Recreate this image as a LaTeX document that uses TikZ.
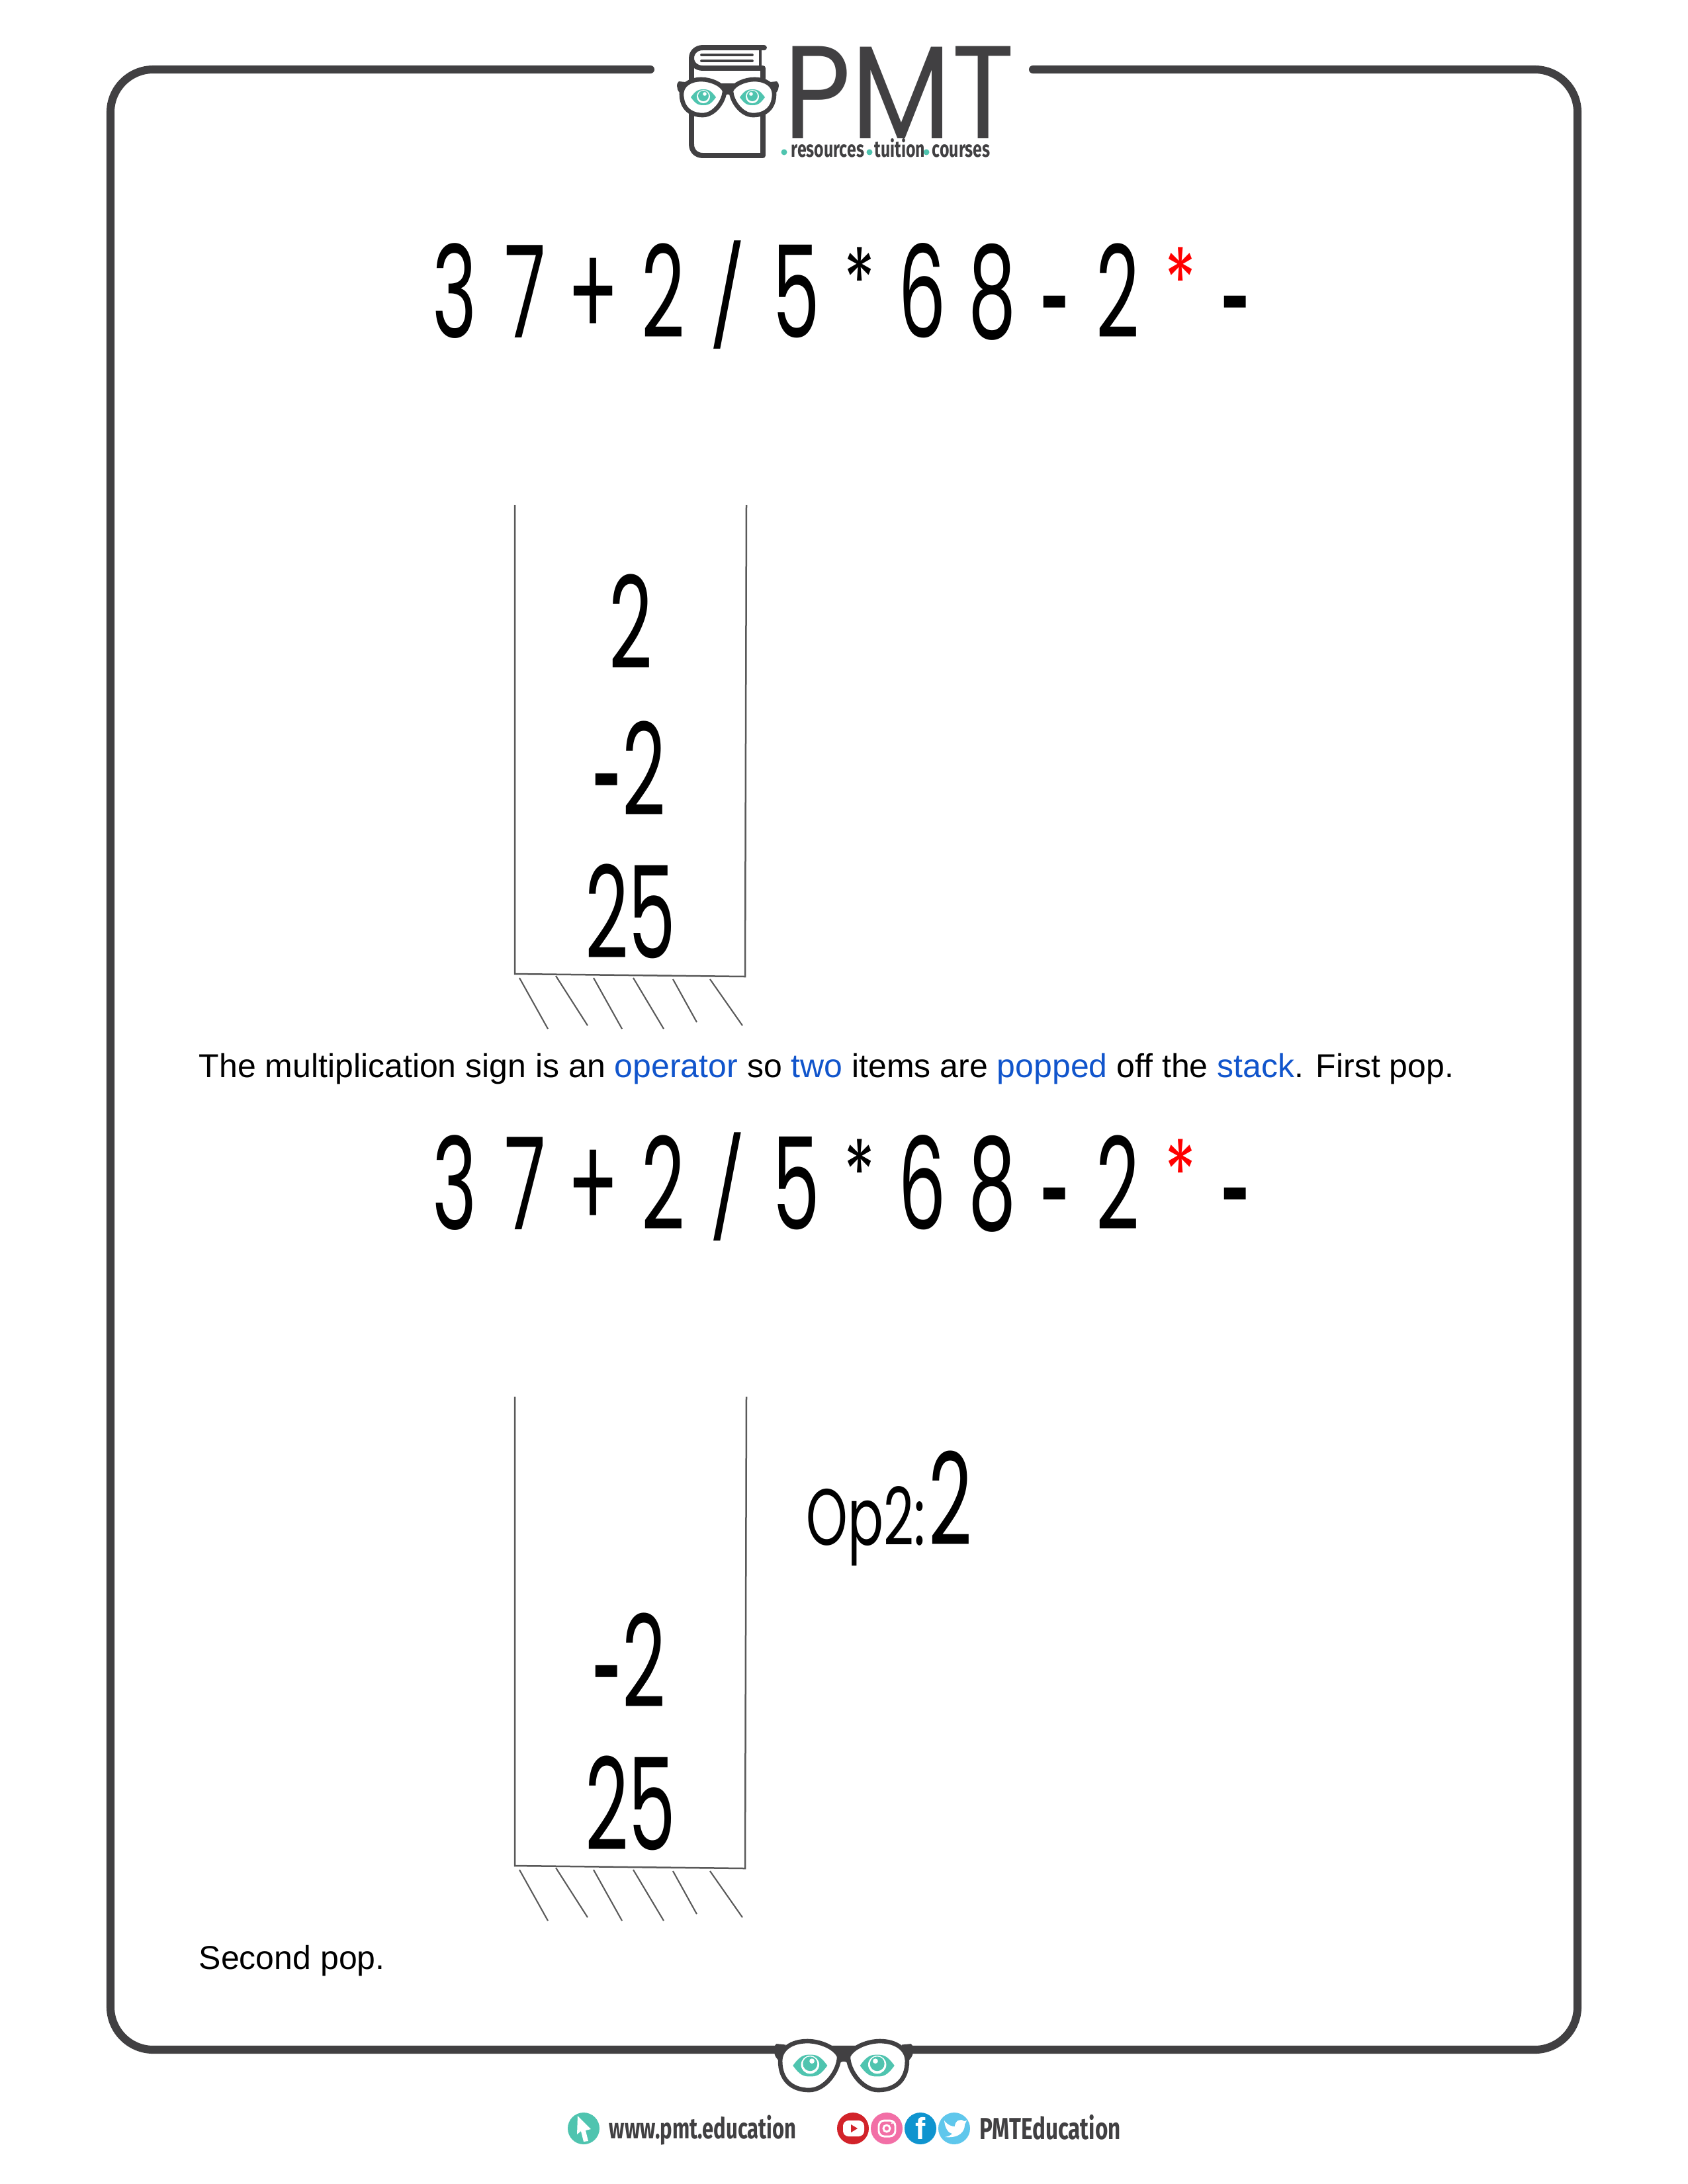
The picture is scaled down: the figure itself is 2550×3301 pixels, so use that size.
\documentclass[tikz,border=0pt]{standalone}
\usepackage{fontspec}
\setmainfont{Liberation Sans}
\newfontfamily\digitfont[FakeStretch=0.59]{Poppins}
\newfontfamily\opfont[FakeStretch=0.66]{Poppins}
\newfontfamily\logofont[FakeStretch=0.88]{Poppins}
\newfontfamily\tagfont[FakeStretch=0.72]{Fira Sans}
\newfontfamily\footfont[FakeStretch=0.71]{Fira Sans}
\newfontfamily\handlefont[FakeStretch=0.725]{Fira Sans}
\usepackage{tikz}
\usetikzlibrary{positioning}
\definecolor{pmtdark}{HTML}{414042}
\definecolor{pmtteal}{HTML}{4FC4AF}
\definecolor{keyblue}{HTML}{1155CC}
\definecolor{iconred}{HTML}{D2232A}
\definecolor{iconpink}{HTML}{F26FA6}
\definecolor{iconblue}{HTML}{0F94CF}
\definecolor{iconsky}{HTML}{5FC7EC}
\newcommand{\lowminus}{\raisebox{-0.16em}{\scalebox{0.72}[1.2]{-}}}
\newcommand{\smallstar}{\raisebox{0.19em}{\scalebox{0.85}[0.7]{*}}}
\tikzset{
  digit/.style = {font = \digitfont\fontsize{46.5}{56}\selectfont, anchor = base, inner sep = 0},
  small digit/.style = {font = \opfont\fontsize{29}{36}\selectfont, anchor = base west, inner sep = 0},
  caption/.style = {font = \fontsize{12}{14}\selectfont, anchor = base west, inner sep = 0},
  foot/.style = {font = \footfont\bfseries\fontsize{10.5}{12}\selectfont, text = pmtdark, anchor = base west, inner sep = 0},
  tag/.style = {font = \tagfont\bfseries\fontsize{8.3}{10}\selectfont, text = pmtdark, anchor = base west, inner sep = 0},
  stackline/.style = {draw = black!65, line width = 0.6pt},
  glasses/.pic = {
    \fill [pmtdark] (-14, -21) -- (14, -21) -- (7, 0) .. controls (3, -6) and (-3, -6) .. (-7, 0) -- cycle;
    \foreach \sx in {-1, 1} {
      \begin{scope}[xscale=\sx]
        \fill [pmtdark] (64, -23) -- (74, -24) .. controls (78, -22) and (78, -12) .. (73, -7) -- (66, 2) -- cycle;
        \draw [pmtdark, fill = white, line width = 1.6pt] (70, -5) .. controls (70, -18) and (58, -27) .. (40, -27)
          .. controls (26, -27) and (9, -20) .. (5, -10) .. controls (5, 5) and (20, 27) .. (38, 27)
          .. controls (58, 27) and (70, 15) .. (70, -5) -- cycle;
        \fill [pmtteal] (18, 0) .. controls (26, -11) and (30, -12) .. (37, -12) .. controls (44, -12) and (48, -11) .. (56, 0)
          .. controls (48, 11) and (44, 12) .. (37, 12) .. controls (30, 12) and (26, 11) .. (18, 0) -- cycle;
        \fill [white] (37, -1) circle [radius = 10];
        \fill [pmtteal] (37, -2) circle [radius = 8];
        \fill [white] (35, -5) circle [radius = 2.8];
      \end{scope}
    }
  },
  stackbox/.pic = {
    \draw [stackline] (778, 763) -- (778, 1472) -- (1126, 1476) -- (1128, 763);
    \foreach \xa/\ya/\xb/\yb in {785/1478/828/1555, 840/1475/888/1550, 897/1478/940/1555,
        957/1478/1003/1555, 1017/1480/1053/1545, 1073/1480/1122/1550}
      \draw [stackline, line width = 0.5pt] (\xa, \ya) -- (\xb, \yb);
  }
}

\begin{document}
\begin{tikzpicture}[x=0.24pt, y=-0.24pt]
  \useasboundingbox (0, 0) rectangle (2550, 3301);

  % frame
  \draw [pmtdark, line width = 2.9pt, line cap = round, rounded corners = 15.5pt]
    (983, 105) -- (167, 105) -- (167, 3098) -- (2384, 3098) -- (2384, 105) -- (1561, 105);

  % book and header
  \draw [pmtdark, line width = 1.9pt, line cap = round, line join = round]
    (1155, 72) -- (1062, 72) .. controls (1052, 72) and (1045, 79) .. (1045, 88)
    .. controls (1045, 96) and (1052, 103) .. (1062, 103) -- (1153, 103) -- (1153, 235)
    -- (1062, 235) .. controls (1052, 235) and (1045, 228) .. (1045, 218) -- (1045, 88);
  \draw [pmtdark, line width = 0.8pt] (1149, 72) -- (1149, 103);
  \draw [pmtdark, line width = 0.9pt, line cap = round] (1060, 83) -- (1137, 83);
  \draw [pmtdark, line width = 0.9pt, line cap = round] (1060, 92) -- (1137, 92);
  \pic (headglasses) at (1100, 147) {glasses};
  \node [font = \logofont\fontsize{48}{56}\selectfont, text = pmtdark, anchor = base west, inner sep = 0] (pmt) at (1184, 209) {PMT};
  \foreach \dx in {1185, 1314, 1400}
    \fill [pmtteal] (\dx, 230) circle [radius = 4.5];
  \node [tag] (tagres) at (1195, 237) {resources};
  \node [tag] (tagtui) at (1321, 237) {tuition};
  \node [tag] (tagcou) at (1408, 237) {courses};

  % expressions
  \foreach \ey/\en in {510/a, 1858/b} {
    \foreach \ex/\ech [count=\i] in {687/3, 794/7, 897/+, 1002/2, 1203/5, 1394/6, 1500/8, 1689/2}
      \node [digit] (eq\en\i) at (\ex, \ey) {\ech};
    \node [digit, yscale = 0.76] (slash\en) at (1100, {\ey - 8}) {/};
    \node [digit] (star\en) at (1299, \ey) {\smallstar};
    \node [digit, text = red] (redstar\en) at (1784, \ey) {\smallstar};
    \node [digit] (minus\en) at (1595, \ey) {\lowminus};
    \node [digit] (lastminus\en) at (1868, \ey) {\lowminus};
  }

  % stacks
  \pic (stackone) at (0, 0) {stackbox};
  \pic (stacktwo) at (0, 1348) {stackbox};
  \node [digit] (sa) at (953, 1010) {2};
  \node [digit] (sb) at (951, 1232) {\lowminus 2};
  \node [digit] (sc) at (953, 1448) {25};
  \node [digit] (tb) at (951, 2580) {\lowminus 2};
  \node [digit] (tc) at (953, 2796) {25};
  \node [small digit] (opname) at (1218, 2335) {Op2:};
  \node [digit] (opval) at (1436, 2335) {2};

  % text
  \node [caption] (firstpop) at (300, 1628) {The multiplication sign is an \textcolor{keyblue}{operator} so \textcolor{keyblue}{two} items are \textcolor{keyblue}{popped} off the \textcolor{keyblue}{stack}. First pop.};
  \node [caption] (secondpop) at (300, 2976) {Second pop.};

  % footer
  \pic (footglasses) [scale=1.37] at (1275, 3122) {glasses};
  \fill [pmtteal] (882, 3217) circle [radius = 24];
  \fill [white] (873, 3198) -- (893, 3218) -- (885, 3220) -- (889, 3236) -- (882, 3237) -- (878, 3221) -- (872, 3226) -- cycle;
  \node [foot] (web) at (920, 3232) {www.pmt.education};
  \fill [iconred] (1289, 3217) circle [radius = 24];
  \fill [white, rounded corners = 2pt] (1274, 3205) rectangle (1306, 3229);
  \fill [iconred] (1286, 3211) -- (1296, 3217) -- (1286, 3223) -- cycle;
  \fill [iconpink] (1340, 3217) circle [radius = 24];
  \draw [white, line width = 0.7pt, rounded corners = 2pt] (1328, 3205) rectangle (1353, 3229);
  \draw [white, line width = 0.7pt] (1340, 3217) circle [radius = 5];
  \fill [white] (1348, 3209) circle [radius = 1.4];
  \fill [iconblue] (1391, 3217) circle [radius = 24];
  \node [font = \bfseries\fontsize{11}{12}\selectfont, text = white, inner sep = 0] (fb) at (1391, 3217) {f};
  \fill [iconsky] (1442, 3217) circle [radius = 24];
  \fill [white] (1427, 3205) .. controls (1432, 3212) and (1438, 3214) .. (1443, 3214)
    .. controls (1443, 3206) and (1451, 3201) .. (1457, 3206) -- (1461, 3205) -- (1458, 3211)
    .. controls (1458, 3222) and (1450, 3232) .. (1428, 3230) .. controls (1434, 3229) and (1437, 3227) .. (1439, 3225)
    .. controls (1433, 3224) and (1428, 3216) .. (1427, 3205) -- cycle;
  \node [foot, font = \handlefont\bfseries\fontsize{11}{12}\selectfont] (handle) at (1480, 3233) {PMTEducation};
\end{tikzpicture}
\end{document}
